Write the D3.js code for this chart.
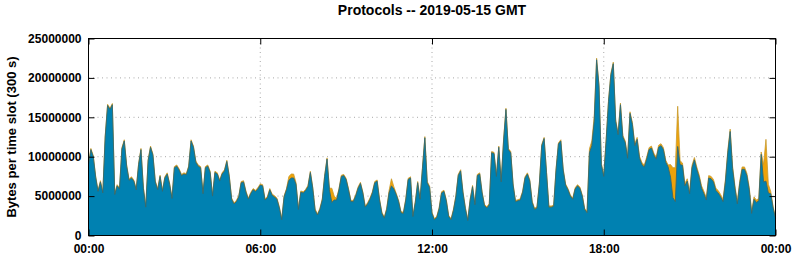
<!DOCTYPE html>
<html>
<head>
<meta charset="utf-8">
<script src="https://cdn.jsdelivr.net/npm/d3@7"></script>
<style>
body { margin: 0; background: #fff; }
text { font-family: "Liberation Sans", Arial, sans-serif; font-weight: bold; fill: #000; }
</style>
</head>
<body>
<div id="chart"></div>
<script>
// bytes per 300 s slot, in millions, one value per slot from 00:00 to 24:00
var blueValues = [
  9.0, 10.9, 10.0, 7.4, 5.6, 6.8, 5.4, 12.5, 16.5, 16.0, 16.6, 5.2,
  6.3, 5.9, 11.0, 12.0, 8.8, 7.0, 7.3, 6.9, 5.8, 9.0, 10.9, 6.0,
  3.6, 9.5, 11.2, 10.2, 6.8, 5.8, 7.5, 5.6, 7.3, 7.8, 6.5, 4.7,
  8.6, 8.8, 8.3, 7.6, 7.8, 7.7, 8.7, 12.0, 11.2, 9.3, 8.8, 8.6,
  5.3, 8.6, 8.8, 8.0, 5.0, 8.0, 7.8, 6.9, 7.8, 8.2, 9.4, 7.5,
  4.6, 4.0, 4.3, 4.9, 6.7, 6.8, 5.5, 4.6, 5.3, 5.8, 5.6, 5.9,
  6.4, 6.3, 4.5, 4.8, 5.8, 5.1, 4.9, 4.6, 3.5, 2.0, 4.9, 5.8,
  7.0, 7.3, 7.3, 6.5, 3.3, 5.5, 5.4, 5.7, 6.2, 8.0, 6.0, 3.2,
  2.6, 3.3, 4.5, 7.5, 9.7, 5.8, 4.2, 4.5, 4.5, 5.8, 7.5, 7.6,
  7.1, 5.8, 4.3, 4.3, 5.0, 6.0, 6.6, 5.4, 3.6, 4.0, 4.6, 5.4,
  6.7, 6.9, 4.5, 2.8, 2.2, 3.3, 5.4, 6.3, 5.9, 5.2, 4.3, 2.9,
  2.8, 4.5, 7.1, 7.3, 2.4, 4.2, 6.7, 4.6, 8.5, 12.4, 6.7, 6.1,
  2.8, 2.0, 2.3, 3.4, 5.4, 5.6, 4.4, 2.4, 2.0, 3.2, 4.9, 7.6,
  8.2, 5.4, 3.4, 1.9, 4.5, 6.2, 3.9, 7.6, 7.8, 5.4, 3.8, 3.5,
  3.9, 10.5, 10.4, 7.5, 11.2, 6.8, 12.0, 16.0, 10.9, 10.5, 6.4, 4.3,
  4.4, 4.5, 5.5, 7.3, 7.8, 6.9, 4.2, 3.3, 3.5, 6.5, 11.4, 12.3,
  8.0, 3.6, 3.6, 3.7, 8.3, 11.6, 12.0, 8.3, 6.4, 5.8, 5.0, 4.6,
  5.9, 6.3, 6.0, 5.0, 3.3, 2.9, 10.5, 11.4, 14.5, 22.3, 19.0, 9.0,
  7.5, 12.0, 17.0, 20.4, 21.8, 14.5, 12.8, 16.6, 12.5, 11.8, 9.8, 15.5,
  14.1, 11.4, 12.2, 9.8, 9.0, 8.7, 9.7, 10.9, 11.1, 10.2, 9.7, 11.2,
  11.4, 10.9, 9.3, 8.7, 7.4, 4.8, 4.3, 11.3, 9.0, 8.9, 6.3, 6.9,
  5.3, 8.6, 9.6, 8.4, 7.4, 6.0, 5.3, 4.5, 7.3, 7.2, 6.8, 5.7,
  5.4, 4.9, 4.3, 6.8, 10.5, 13.2, 8.5, 6.0, 4.0, 6.6, 8.4, 8.4,
  7.6, 5.8, 2.8, 4.6, 4.2, 4.4, 10.3, 6.8, 6.9, 5.4, 5.3, 3.5,
  2.2
];

// second protocol, stacked on top (millions)
var orangeValues = [
  0.15, 0.15, 0.15, 0.15, 0.15, 0.15, 0.15, 0.15, 0.15, 0.15, 0.15, 0.15,
  0.15, 0.15, 0.15, 0.15, 0.15, 0.15, 0.15, 0.15, 0.15, 0.15, 0.15, 0.15,
  0.15, 0.15, 0.15, 0.15, 0.15, 0.15, 0.15, 0.15, 0.15, 0.15, 0.15, 0.15,
  0.15, 0.15, 0.15, 0.15, 0.15, 0.15, 0.15, 0.15, 0.15, 0.15, 0.15, 0.15,
  0.15, 0.15, 0.15, 0.15, 0.15, 0.15, 0.15, 0.15, 0.15, 0.15, 0.15, 0.15,
  0.15, 0.15, 0.15, 0.15, 0.15, 0.15, 0.15, 0.15, 0.15, 0.15, 0.15, 0.15,
  0.15, 0.15, 0.15, 0.15, 0.15, 0.15, 0.15, 0.15, 0.15, 0.15, 0.15, 0.15,
  0.5, 0.5, 0.5, 0.2, 0.15, 0.15, 0.15, 0.15, 0.15, 0.15, 0.15, 0.15,
  0.15, 0.15, 0.15, 0.15, 0.15, 0.2, 1.8, 0.5, 0.2, 0.15, 0.15, 0.15,
  0.15, 0.15, 0.15, 0.15, 0.15, 0.15, 0.15, 0.15, 0.15, 0.15, 0.15, 0.15,
  0.15, 0.15, 0.15, 0.15, 0.15, 0.15, 0.3, 0.9, 0.3, 0.15, 0.15, 0.15,
  0.15, 0.15, 0.15, 0.15, 0.15, 0.15, 0.15, 0.15, 0.15, 0.15, 0.15, 0.15,
  0.15, 0.15, 0.15, 0.15, 0.15, 0.15, 0.15, 0.15, 0.15, 0.15, 0.15, 0.15,
  0.15, 0.15, 0.15, 0.15, 0.15, 0.15, 0.15, 0.15, 0.15, 0.15, 0.15, 0.15,
  0.15, 0.15, 0.15, 0.15, 0.15, 0.15, 0.15, 0.15, 0.15, 0.15, 0.15, 0.15,
  0.15, 0.15, 0.15, 0.15, 0.15, 0.15, 0.15, 0.15, 0.15, 0.15, 0.15, 0.15,
  0.15, 0.15, 0.15, 0.15, 0.15, 0.15, 0.15, 0.15, 0.15, 0.15, 0.15, 0.15,
  0.15, 0.15, 0.15, 0.15, 0.15, 0.15, 0.5, 0.6, 0.6, 0.2, 0.15, 0.15,
  0.2, 0.2, 0.2, 0.2, 0.2, 0.2, 0.2, 0.2, 0.2, 0.2, 0.2, 0.2,
  0.25, 0.25, 0.25, 0.25, 0.25, 0.25, 0.25, 0.25, 0.25, 0.25, 0.25, 0.25,
  0.25, 0.25, 0.25, 0.25, 1.6, 3.8, 4.3, 5.1, 0.5, 0.3, 0.3, 0.3,
  0.3, 0.3, 0.3, 0.3, 0.3, 0.3, 0.3, 0.3, 0.3, 0.3, 0.3, 0.3,
  0.3, 0.3, 0.3, 0.3, 0.3, 0.3, 0.3, 0.3, 0.3, 0.3, 0.3, 0.3,
  0.3, 0.3, 0.3, 0.3, 0.3, 0.3, 0.3, 2.2, 5.3, 1.1, 0.3, 0.2,
  0.1
];

var yTicks = [0, 5000000, 10000000, 15000000, 20000000, 25000000];
var xTickLabels = ["00:00", "06:00", "12:00", "18:00", "00:00"];
var titleText = "Protocols -- 2019-05-15 GMT";
var yLabelText = "Bytes per time slot (300 s)";

var width = 795, height = 260;
var margin = {top: 38.5, right: 19.5, bottom: 24.5, left: 88.5};
var w = width - margin.left - margin.right,
    h = height - margin.top - margin.bottom;

var start = new Date(Date.UTC(2019, 4, 15, 0, 0));
var end = new Date(Date.UTC(2019, 4, 16, 0, 0));

var data = blueValues.map(function(v, i) {
  return {
    t: new Date(start.getTime() + i * 300000),
    blue: v * 1e6,
    total: (v + orangeValues[i]) * 1e6
  };
});

var x = d3.scaleUtc().domain([start, end]).range([0, w]);
var y = d3.scaleLinear().domain([0, 25000000]).range([h, 0]);
var xTickDates = xTickLabels.map(function(d, i) {
  return new Date(start.getTime() + i * 6 * 3600000);
});

var svg = d3.select("#chart").append("svg")
  .attr("width", width)
  .attr("height", height)
  .style("background", "#fff");

var chart = svg.append("g")
  .attr("transform", "translate(" + margin.left + "," + margin.top + ")");

// dotted grid
chart.append("g").selectAll("line.hgrid")
  .data(yTicks.slice(1, -1))
  .enter().append("line")
  .attr("x1", 0).attr("x2", w)
  .attr("y1", function(d) { return y(d); })
  .attr("y2", function(d) { return y(d); })
  .attr("stroke", "#a8a8a8")
  .attr("stroke-dasharray", "1,3.5");

chart.append("g").selectAll("line.vgrid")
  .data(xTickDates.slice(1, -1))
  .enter().append("line")
  .attr("x1", function(d) { return x(d); })
  .attr("x2", function(d) { return x(d); })
  .attr("y1", 0).attr("y2", h)
  .attr("stroke", "#a8a8a8")
  .attr("stroke-dasharray", "1,3.5");

// stacked areas
var totalArea = d3.area()
  .x(function(d) { return x(d.t); })
  .y0(h)
  .y1(function(d) { return y(d.total); });
var blueArea = d3.area()
  .x(function(d) { return x(d.t); })
  .y0(h)
  .y1(function(d) { return y(d.blue); });

chart.append("path").datum(data)
  .attr("d", totalArea)
  .attr("fill", "#eea20a")
  .attr("stroke", "#c99a2c")
  .attr("stroke-width", 0.8);

chart.append("path").datum(data)
  .attr("d", blueArea)
  .attr("fill", "#0081b1");

chart.append("path").datum(data)
  .attr("d", d3.line()
    .x(function(d) { return x(d.t); })
    .y(function(d) { return y(d.blue); }))
  .attr("fill", "none")
  .attr("stroke", "#35696e")
  .attr("stroke-width", 0.9);

// axes, ticks pointing inwards
var fmtX = function(d, i) { return xTickLabels[i]; };

chart.append("g")
  .call(d3.axisLeft(y).tickValues(yTicks).tickSize(-6).tickPadding(7)
    .tickFormat(d3.format("d")));
chart.append("g")
  .attr("transform", "translate(" + w + ",0)")
  .call(d3.axisRight(y).tickValues(yTicks).tickSize(-6).tickFormat(""));
chart.append("g")
  .attr("transform", "translate(0," + h + ")")
  .call(d3.axisBottom(x).tickValues(xTickDates).tickSize(-6).tickPadding(9)
    .tickFormat(fmtX));
chart.append("g")
  .call(d3.axisTop(x).tickValues(xTickDates).tickSize(-6).tickFormat(""));

chart.selectAll(".domain").remove();
chart.selectAll(".tick line").attr("stroke", "#000");
chart.selectAll(".tick text")
  .attr("font-family", "'Liberation Sans', Arial, sans-serif")
  .attr("font-weight", "bold")
  .attr("font-size", 12)
  .attr("fill", "#000");

// frame
chart.append("rect")
  .attr("width", w).attr("height", h)
  .attr("fill", "none")
  .attr("stroke", "#000")
  .attr("stroke-width", 1);

// title and y label
svg.append("text")
  .attr("x", margin.left + w / 2)
  .attr("y", 15)
  .attr("text-anchor", "middle")
  .attr("font-size", 14)
  .text(titleText);

svg.append("text")
  .attr("transform", "translate(16," + (margin.top + h / 2) + ") rotate(-90)")
  .attr("text-anchor", "middle")
  .attr("font-size", 13)
  .text(yLabelText);
</script>
</body>
</html>
